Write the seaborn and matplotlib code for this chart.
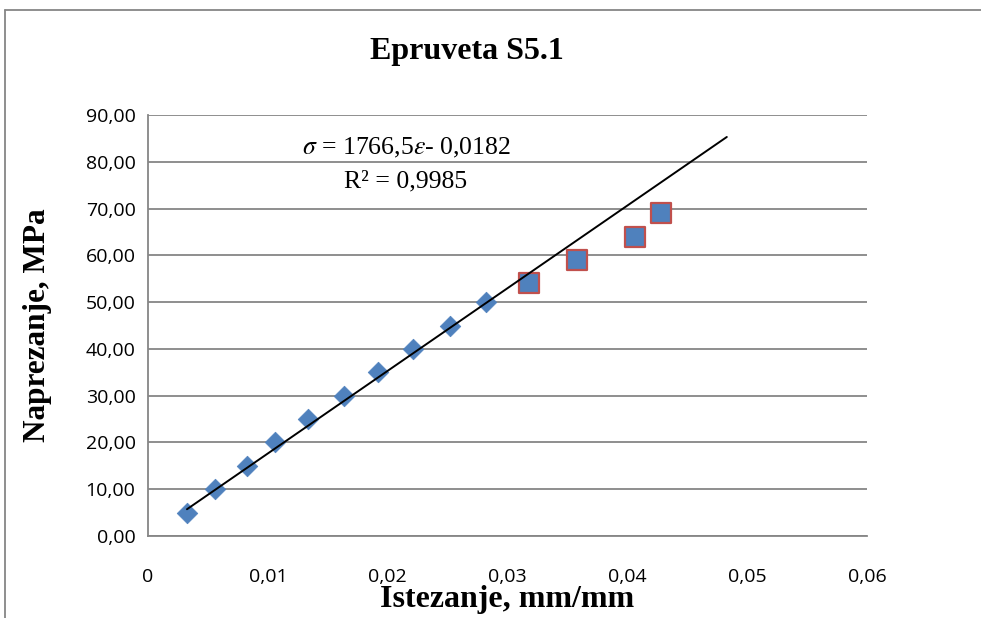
import numpy as np
import pandas as pd
import matplotlib.pyplot as plt
import seaborn as sns
from matplotlib.lines import Line2D

# elastic region (diamonds) and later points (squares)
strain_lin = [0.00325, 0.0056, 0.00826, 0.0106, 0.01335, 0.01636, 0.0192, 0.0221, 0.0252, 0.0282]
stress_lin = [5, 10, 15, 20, 25, 30, 35, 40, 45, 50]
strain_rest = [0.0318, 0.0358, 0.0406, 0.0428]
stress_rest = [54, 59, 64, 69]

# trendline from the chart
slope = 1766.5
intercept = -0.0182
trend_end = 0.0483

x_ticks = [0, 0.01, 0.02, 0.03, 0.04, 0.05, 0.06]
x_ticklabels = ['0', '0,01', '0,02', '0,03', '0,04', '0,05', '0,06']
y_ticks = [0, 10, 20, 30, 40, 50, 60, 70, 80, 90]
y_ticklabels = ['0,00', '10,00', '20,00', '30,00', '40,00', '50,00', '60,00', '70,00', '80,00', '90,00']

sns.set_style('white')
plt.rcParams['mathtext.fontset'] = 'stix'
plt.rcParams['text.color'] = 'black'
plt.rcParams['axes.labelcolor'] = 'black'

fig = plt.figure(figsize=(9.81, 6.18), dpi=100)
ax = fig.add_axes([0.1509, 0.1327, 0.7329, 0.6812])

df_lin = pd.DataFrame({'strain': strain_lin, 'stress': stress_lin})
df_rest = pd.DataFrame({'strain': strain_rest, 'stress': stress_rest})
tx = np.array([strain_lin[0], trend_end])
df_trend = pd.DataFrame({'strain': tx, 'stress': slope * tx + intercept})

sns.lineplot(data=df_trend, x='strain', y='stress', color='black', linewidth=1.4, ax=ax, zorder=3)
sns.scatterplot(data=df_lin, x='strain', y='stress', marker='D', s=110, color='#4F81BD',
                edgecolor='#4F81BD', linewidth=0.5, ax=ax, zorder=2)
sns.scatterplot(data=df_rest, x='strain', y='stress', marker='s', s=200, color='#4F81BD',
                edgecolor='#C0504D', linewidth=1.6, ax=ax, zorder=2)

ax.set_xlim(0, 0.06)
ax.set_ylim(0, 90)
ax.set_xticks(x_ticks)
ax.set_xticklabels(x_ticklabels)
ax.set_yticks(y_ticks)
ax.set_yticklabels(y_ticklabels)
ax.yaxis.grid(True, color='#868686', linewidth=1.3)
ax.set_axisbelow(True)
for s in ['top', 'right']:
    ax.spines[s].set_visible(False)
for s in ['left', 'bottom']:
    ax.spines[s].set_color('#868686')
    ax.spines[s].set_linewidth(1.3)
ax.tick_params(axis='both', direction='out', length=6, width=1.3, color='#868686',
               labelsize=14, labelcolor='black')
ax.tick_params(axis='x', pad=17)
ax.tick_params(axis='y', pad=3)
for lab in ax.get_xticklabels() + ax.get_yticklabels():
    lab.set_fontfamily('Open Sans')

serif = 'Liberation Serif'
ax.set_xlabel('Istezanje, mm/mm', fontfamily=serif, fontweight='bold', fontsize=23, va='center',
              color='black')
ax.xaxis.set_label_coords(0.499, -0.152)
ax.set_ylabel('Naprezanje, MPa', fontfamily=serif, fontweight='bold', fontsize=22.5, va='center',
              color='black')
ax.yaxis.set_label_coords(-0.154, 0.501)
fig.text(0.476, 0.916, 'Epruveta S5.1', fontfamily=serif, fontweight='bold', fontsize=23,
         ha='center', va='center', color='black')

ax.text(0.02153, 82.9, r'$\sigma$ = 1766,5$\varepsilon$- 0,0182', fontfamily=serif, fontsize=18.5,
        ha='center', va='center', color='black')
ax.text(0.02153, 75.9, 'R² = 0,9985', fontfamily=serif, fontsize=18.5, ha='center', va='center',
        color='black')

# outer chart frame
fig.add_artist(Line2D([5 / 981, 5 / 981], [0, 1 - 10 / 618], color='#868686', linewidth=1.3,
                      transform=fig.transFigure))
fig.add_artist(Line2D([5 / 981, 1], [1 - 10 / 618, 1 - 10 / 618], color='#868686', linewidth=1.3,
                      transform=fig.transFigure))

fig.savefig('out.png', dpi=100)
